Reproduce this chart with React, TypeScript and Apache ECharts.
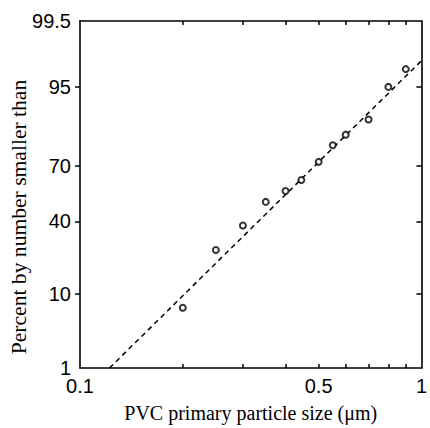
import React, { useEffect, useRef } from "react";
import * as echarts from "echarts";

// Measured data (particle size in µm, cumulative percent by number)
const sizes = [0.2, 0.25, 0.3, 0.35, 0.4, 0.445, 0.5, 0.55, 0.6, 0.7, 0.8, 0.9];
const percents = [7.0, 25.5, 37.7, 50.8, 56.9, 62.9, 72.1, 79.4, 83.4, 88.2, 95.0, 97.1];

// Fitted log-normal line (dashed)
const lineSizes = [0.122, 1.0];
const linePercents = [1.0, 97.8];

// Axis ticks
const yTickPercents = [1, 10, 40, 70, 95, 99.5];
const yInnerTickPercents = [10, 40, 70, 95];
const xTickSizes = [0.2, 0.3, 0.4, 0.5, 0.6, 0.7, 0.8, 0.9];
const xLabelSizes = [0.1, 0.5, 1];

// inverse standard normal CDF (Acklam)
function probit(p: number): number {
  const a = [-3.969683028665376e1, 2.209460984245205e2, -2.759285104469687e2, 1.38357751867269e2, -3.066479806614716e1, 2.506628277459239];
  const b = [-5.447609879822406e1, 1.615858368580409e2, -1.556989798598866e2, 6.680131188771972e1, -1.328068155288572e1];
  const c = [-7.784894002430293e-3, -3.223964580411365e-1, -2.400758277161838, -2.549732539343734, 4.374664141464968, 2.938163982698783];
  const d = [7.784695709041462e-3, 3.224671290700398e-1, 2.445134137142996, 3.754408661907416];
  const pl = 0.02425;
  let q, r;
  if (p < pl) {
    q = Math.sqrt(-2 * Math.log(p));
    return (((((c[0] * q + c[1]) * q + c[2]) * q + c[3]) * q + c[4]) * q + c[5]) / ((((d[0] * q + d[1]) * q + d[2]) * q + d[3]) * q + 1);
  } else if (p <= 1 - pl) {
    q = p - 0.5;
    r = q * q;
    return ((((((a[0] * r + a[1]) * r + a[2]) * r + a[3]) * r + a[4]) * r + a[5]) * q) / (((((b[0] * r + b[1]) * r + b[2]) * r + b[3]) * r + b[4]) * r + 1);
  } else {
    q = Math.sqrt(-2 * Math.log(1 - p));
    return -(((((c[0] * q + c[1]) * q + c[2]) * q + c[3]) * q + c[4]) * q + c[5]) / ((((d[0] * q + d[1]) * q + d[2]) * q + d[3]) * q + 1);
  }
}
const zOf = (pct: number) => probit(pct / 100);
const lx = (s: number) => Math.log10(s);

export default function App() {
  const ref = useRef<HTMLDivElement>(null);
  useEffect(() => {
    document.body.style.margin = "0";
    if (!ref.current) return;
    const chart = echarts.init(ref.current, null, { renderer: "svg" });
    const xMin = -1;
    const xMax = 0;
    const yMin = zOf(yTickPercents[0]);
    const yMax = zOf(yTickPercents[yTickPercents.length - 1]);
    const yLabelVals = yTickPercents.map(zOf);
    const yTickVals = yInnerTickPercents.map(zOf);
    const labelFont = { fontFamily: "Liberation Sans", fontSize: 20, color: "#000" };
    const fmtY = (v: number) => {
      let best = 0;
      yTickPercents.forEach((p, i) => {
        if (Math.abs(zOf(p) - v) < Math.abs(zOf(yTickPercents[best]) - v)) best = i;
      });
      return String(yTickPercents[best]);
    };
    const fmtX = (v: number) => String(parseFloat(Math.pow(10, v).toPrecision(3)));
    const axisLine = { show: true, onZero: false, lineStyle: { color: "#000", width: 1.6 } };
    const tickStyle = { color: "#000", width: 1.5 };

    chart.setOption({
      animation: false,
      grid: { left: 80, top: 21, right: 3, bottom: 54, containLabel: false },
      xAxis: [
        {
          type: "value",
          position: "bottom",
          min: xMin,
          max: xMax,
          axisLine,
          splitLine: { show: false },
          axisTick: { show: true, inside: true, length: 4, customValues: xTickSizes.map(lx), lineStyle: tickStyle },
          axisLabel: { ...labelFont, margin: 8, customValues: xLabelSizes.map(lx), formatter: fmtX },
          name: "PVC primary particle size (\u03bcm)",
          nameLocation: "middle",
          nameGap: 35,
          nameTextStyle: { fontFamily: "Liberation Serif", fontSize: 20, color: "#000" },
        },
        {
          type: "value",
          position: "top",
          min: xMin,
          max: xMax,
          axisLine,
          splitLine: { show: false },
          axisTick: { show: true, inside: true, length: 4, customValues: xTickSizes.map(lx), lineStyle: tickStyle },
          axisLabel: { show: false },
        },
      ],
      yAxis: [
        {
          type: "value",
          position: "left",
          min: yMin,
          max: yMax,
          axisLine,
          splitLine: { show: false },
          axisTick: { show: true, inside: false, length: 5, customValues: yTickVals, lineStyle: tickStyle },
          axisLabel: { ...labelFont, margin: 9, customValues: yLabelVals, formatter: fmtY },
        },
        {
          type: "value",
          position: "right",
          min: yMin,
          max: yMax,
          axisLine,
          splitLine: { show: false },
          axisTick: { show: true, inside: true, length: 5, customValues: yTickVals, lineStyle: tickStyle },
          axisLabel: { show: false },
        },
      ],
      graphic: [
        {
          type: "text",
          x: 19,
          y: 217,
          rotation: Math.PI / 2,
          scaleX: 1.08,
          style: {
            text: "Percent by number smaller than",
            fontFamily: "Liberation Serif",
            fontSize: 20,
            fill: "#000",
            align: "center",
            verticalAlign: "middle",
          },
        },
      ],
      series: [
        {
          type: "line",
          data: lineSizes.map((s, i) => [lx(s), zOf(linePercents[i])]),
          showSymbol: false,
          symbol: "none",
          lineStyle: { color: "#000", width: 1.5, type: [5, 4] },
          z: 2,
        },
        {
          type: "scatter",
          data: sizes.map((s, i) => [lx(s), zOf(percents[i])]),
          symbol: "emptyCircle",
          symbolSize: 6,
          itemStyle: { color: "#000", borderColor: "#000", borderWidth: 1 },
          z: 3,
        },
      ],
    });
    return () => chart.dispose();
  }, []);
  return <div ref={ref} style={{ width: 430, height: 428 }} />;
}
